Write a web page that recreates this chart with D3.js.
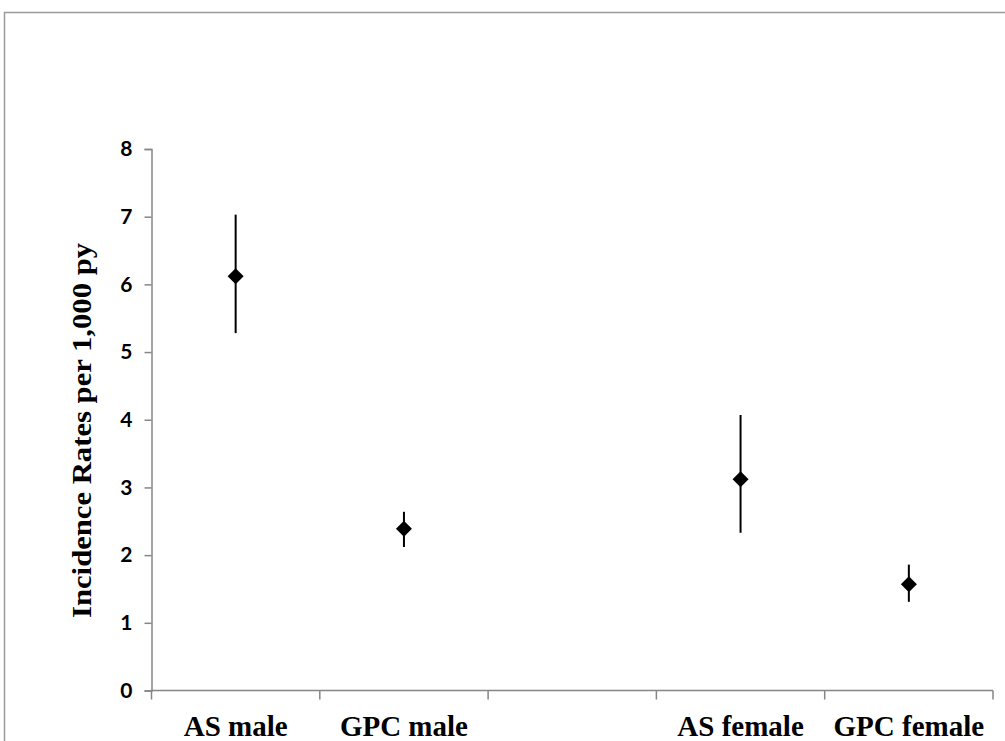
<!DOCTYPE html>
<html>
<head>
<meta charset="utf-8">
<script src="https://cdn.jsdelivr.net/npm/d3@7"></script>
<style>
  html, body { margin: 0; padding: 0; background: #fff; }
  svg { display: block; }
</style>
</head>
<body>
<script>
// categories (blank slot between male and female groups)
const categories = ["AS male", "GPC male", "", "AS female", "GPC female"];
const groups = ["AS male", "GPC male", "AS female", "GPC female"];
const rates = [6.12, 2.39, 3.12, 1.57];
const lower = [5.28, 2.12, 2.33, 1.31];
const upper = [7.03, 2.64, 4.07, 1.86];
const yTicks = [0, 1, 2, 3, 4, 5, 6, 7, 8];

const width = 1005, height = 741;

const svg = d3.select("body").append("svg")
    .attr("width", width)
    .attr("height", height);

// outer frame, cut off at right and bottom like the original screenshot
svg.append("rect")
    .attr("x", 4.5).attr("y", 12.5)
    .attr("width", 1100).attr("height", 800)
    .attr("fill", "none")
    .attr("stroke", "#9a9a9a")
    .attr("stroke-width", 1.5);

let x = d3.scaleBand().domain(categories).range([151.5, 993]).padding(0);
let y = d3.scaleLinear().domain([0, 8]).range([690.5, 149]);

const axisColor = "#868686";

// y axis
let yAxis = svg.append("g")
    .attr("transform", "translate(151.5,0)")
    .call(d3.axisLeft(y).tickValues(yTicks).tickSize(7).tickPadding(12).tickFormat(d3.format("d")));
yAxis.select(".domain").attr("stroke", axisColor).attr("stroke-width", 1.5);
yAxis.selectAll(".tick line").attr("stroke", axisColor).attr("stroke-width", 1.5);
yAxis.selectAll(".tick text")
    .attr("fill", "#000")
    .style("font-family", "Lato, 'Open Sans', sans-serif")
    .style("font-weight", "bold")
    .style("font-size", "21px");

// x axis: ticks sit on band edges
let edges = categories.map((c) => x(c)).concat([x.range()[1]]);
let xAxisG = svg.append("g");
xAxisG.append("line")
    .attr("x1", 151.5).attr("x2", 993)
    .attr("y1", y(0)).attr("y2", y(0))
    .attr("stroke", axisColor).attr("stroke-width", 1.5);
xAxisG.selectAll("line.tk")
    .data(edges)
    .join("line")
    .attr("class", "tk")
    .attr("x1", (d) => d).attr("x2", (d) => d)
    .attr("y1", y(0)).attr("y2", y(0) + 9)
    .attr("stroke", axisColor).attr("stroke-width", 1.5);
xAxisG.selectAll("text")
    .data(categories.filter((c) => c))
    .join("text")
    .attr("x", (d) => x(d) + x.bandwidth() / 2)
    .attr("y", 736)
    .attr("text-anchor", "middle")
    .style("font-family", "'Liberation Serif', 'Times New Roman', serif")
    .style("font-weight", "bold")
    .style("font-size", "29px")
    .text((d) => d);

// y axis title
svg.append("text")
    .attr("transform", "translate(91," + 430.5 + ") rotate(-90)")
    .attr("text-anchor", "middle")
    .attr("textLength", 375)
    .attr("lengthAdjust", "spacingAndGlyphs")
    .style("font-family", "'Liberation Serif', 'Times New Roman', serif")
    .style("font-weight", "bold")
    .style("font-size", "28px")
    .text("Incidence Rates per 1,000 py");

// error bars
let pts = groups.map((g, i) => ({ cat: g, v: rates[i], lo: lower[i], hi: upper[i] }));
let cx = (d) => x(d.cat) + x.bandwidth() / 2;

svg.append("g").selectAll("line")
    .data(pts)
    .join("line")
    .attr("x1", cx).attr("x2", cx)
    .attr("y1", (d) => y(d.lo)).attr("y2", (d) => y(d.hi))
    .attr("stroke", "#000")
    .attr("stroke-width", 2);

// diamond markers
svg.append("g").selectAll("path")
    .data(pts)
    .join("path")
    .attr("d", "M0,-8L8,0L0,8L-8,0Z")
    .attr("transform", (d) => "translate(" + cx(d) + "," + y(d.v) + ")")
    .attr("fill", "#000");
</script>
</body>
</html>
